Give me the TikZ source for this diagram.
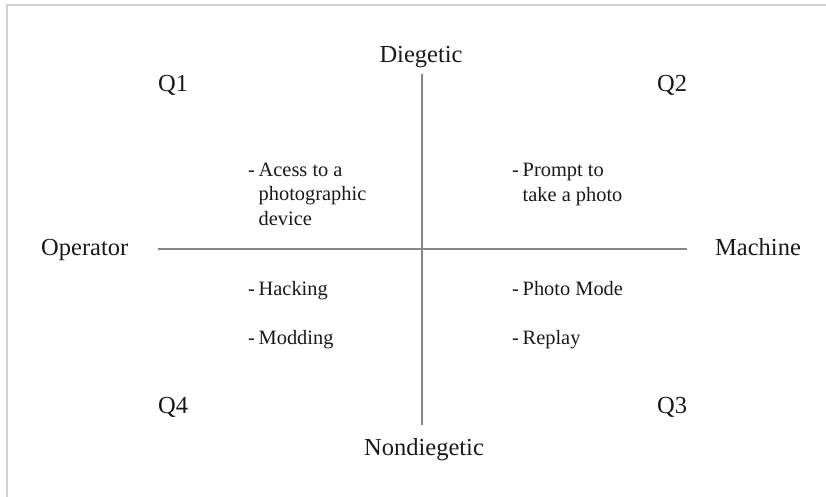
\documentclass[tikz,border=0pt]{standalone}
\usepackage{fontspec}
\setmainfont{Liberation Serif}
\newcommand{\itemdash}{\makebox[10.5pt][l]{-}}
\begin{document}
\begin{tikzpicture}[x=1pt,y=-1pt,
  axislabel/.style={inner sep=0pt,font=\fontsize{24.5}{29}\selectfont,text=black!90},
  quadlabel/.style={inner sep=0pt,anchor=base west,font=\fontsize{24.5}{29}\selectfont,text=black!90},
  entry/.style={inner sep=0pt,anchor=base west,align=left,font=\fontsize{20.4}{24.3}\selectfont,text=black!90},
  axis/.style={draw=black!48,line width=1.4pt},
  frameline/.style={draw=black!18,line width=2pt}]
\useasboundingbox (0,0) rectangle (826,497);
% outer frame (top and left edges)
\draw[frameline] (7,497) -- (7,5) -- (826,5);
% axes
\coordinate (top) at (422,74);
\coordinate (bottom) at (422,425);
\coordinate (left) at (158,249);
\coordinate (right) at (687,249);
\draw[axis] (top) -- (bottom);
\draw[axis] (left) -- (right);
% axis labels
\node[axislabel,anchor=base] (dieg) at (421,63) {Diegetic};
\node[axislabel,anchor=base] (nondieg) at (424,455) {Nondiegetic};
\node[axislabel,anchor=base west] (oper) at (41,255) {Operator};
\node[axislabel,anchor=base west] (mach) at (715,255) {Machine};
% quadrant labels
\node[quadlabel] (q1) at (158,92) {Q1};
\node[quadlabel] (q2) at (657,92) {Q2};
\node[quadlabel] (q3) at (657,413) {Q3};
\node[quadlabel] (q4) at (158,413) {Q4};
% quadrant entries (multi-line nodes sit on the baseline of their last line)
\node[entry] (access) at (248,225) {\itemdash Acess to a\\\hspace{10.5pt}photographic\\\hspace{10.5pt}device};
\node[entry] (prompt) at (512,201) {\itemdash Prompt to\\\hspace{10.5pt}take a photo};
\node[entry] (hack) at (248,295) {\itemdash Hacking};
\node[entry] (mod) at (248,344) {\itemdash Modding};
\node[entry] (photo) at (512,295) {\itemdash Photo Mode};
\node[entry] (replay) at (512,344) {\itemdash Replay};
\end{tikzpicture}
\end{document}
